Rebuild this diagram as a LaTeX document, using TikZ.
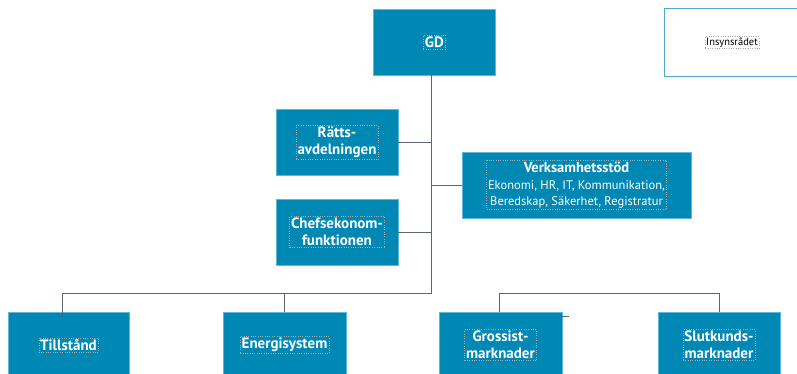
\documentclass[tikz,border=0pt]{standalone}
\usepackage{fontspec}
\setmainfont{PT Sans}
\definecolor{boxblue}{HTML}{0088B4}
\definecolor{boxedge}{HTML}{5FB8DA}
\definecolor{connc}{HTML}{5B6670}
\definecolor{insedge}{HTML}{4FA9CC}
\begin{document}
\begin{tikzpicture}[x=1pt,y=-1pt,
  orgbox/.style={fill=boxblue,draw=boxedge,line width=0.7pt,minimum width=122pt,minimum height=66pt,inner sep=0pt},
  lbl/.style={draw=gray!65,dotted,line width=0.35pt,inner sep=1.5pt,text=white,font=\bfseries\fontsize{15}{17}\selectfont,align=center},
  conn/.style={draw=connc,line width=0.9pt}]
\useasboundingbox (0,0) rectangle (797,374);
% boxes
\node[orgbox] (gd) at (434.3,42) {};
\node[lbl] (gdt) at (gd.center) {GD};
\node[orgbox] (ratts) at (337,142.5) {};
\node[lbl] (rattst) at (ratts.center) {Rätts-\\avdelningen};
\node[orgbox] (chef) at (337,232) {};
\node[lbl] (cheft) at (chef.center) {Chefsekonom-\\funktionen};
\node[orgbox,minimum width=229pt] (verk) at (576.5,185) {};
\node[lbl,font=\bfseries\fontsize{14.5}{16}\selectfont] (verkt) at (verk.center) {Verksamhetsstöd\\[1pt]{\normalfont\fontsize{12.5}{14.5}\selectfont Ekonomi, HR, IT, Kommunikation,}\\{\normalfont\fontsize{12.5}{14.5}\selectfont Beredskap, Säkerhet, Registratur}};
\node[fill=white,draw=insedge,line width=0.8pt,minimum width=140pt,minimum height=68pt,inner sep=0pt] (insyn) at (734,42) {};
\node[draw=gray!65,dotted,line width=0.35pt,inner sep=1pt,font=\fontsize{10.5}{12}\selectfont,text=black] (insynt) at (732,42.5) {Insynsrådet};
\node[orgbox,minimum width=121pt] (till) at (68.5,345) {};
\node[lbl] (tillt) at (till.center) {Tillstånd};
\node[orgbox,minimum width=123pt] (energi) at (284.5,345) {};
\node[lbl] (energit) at (energi.center) {Energisystem};
\node[orgbox,minimum width=123pt] (gross) at (500.5,345) {};
\node[lbl] (grosst) at (gross.center) {Grossist-\\marknader};
\node[orgbox,minimum width=122pt] (slut) at (719,345) {};
\node[lbl] (slutt) at (slut.center) {Slutkunds-\\marknader};
% connectors
\coordinate (spine) at (431.5,293);
\coordinate (tl) at (62,293);
\coordinate (rl) at (499,293);
\draw[conn] (gd.south -| spine) -- (spine);
\draw[conn] (ratts.east) -- (ratts.east -| spine);
\draw[conn] (chef.east) -- (chef.east -| spine);
\draw[conn] (verk.west) -- (verk.west -| spine);
\draw[conn] (spine) -- (tl) -- (tl |- 0,315) -- ++(6,0);
\draw[conn] (energi.north) -- (energi.north |- spine);
\draw[conn] (gross.north -| rl) -- (rl) -- (rl -| slut.north) -- (slut.north);
\draw[conn] (gross.north east) ++(0,5) -- ++(7,0);
\end{tikzpicture}
\end{document}
